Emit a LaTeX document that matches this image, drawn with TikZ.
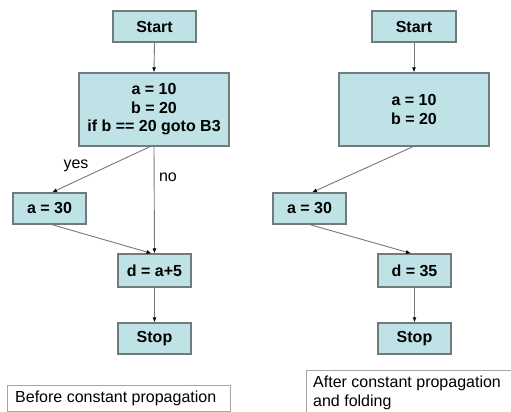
\documentclass[tikz,border=0pt]{standalone}
\usepackage{fontspec}
\setmainfont{Liberation Sans}
\usetikzlibrary{arrows.meta}
\definecolor{boxfill}{RGB}{190,226,230}
\definecolor{boxdraw}{RGB}{112,124,124}
\definecolor{linegray}{RGB}{120,120,120}
\definecolor{capdraw}{RGB}{165,165,165}
\begin{document}
\begin{tikzpicture}[x=1pt,y=-1pt,
  blk/.style={draw=boxdraw,line width=1.3pt,fill=boxfill,inner sep=0pt,align=center,
    font=\fontsize{16}{18.5}\selectfont\bfseries},
  flow/.style={draw=linegray,line width=0.9pt,-{Latex[length=5pt,width=4pt,color=black]}},
  lbl/.style={font=\fontsize{16}{18.5}\selectfont,inner sep=0pt},
  capbox/.style={draw=capdraw,line width=1pt,fill=white}]
\useasboundingbox (0,0) rectangle (511,412);
\clip (0,0) rectangle (511,412);
% left graph
\node[blk,minimum width=83pt,minimum height=31pt] (Ls) at (154.5,26.5) {Start};
\node[blk,minimum width=150pt,minimum height=73pt] (Lb) at (154,109.5) {a = 10\\b = 20\\if b == 20 goto B3};
\node[blk,minimum width=73pt,minimum height=31pt] (La) at (49.5,208.5) {a = 30};
\node[blk,minimum width=73pt,minimum height=33pt] (Ld) at (154.5,270.5) {d = a+5};
\node[blk,minimum width=73pt,minimum height=31pt] (Lt) at (154.5,338.5) {Stop};
\draw[flow] (Ls.south) -- (Lb.north);
\draw[flow] ([xshift=-4pt]Lb.south) -- ([xshift=2.5pt]La.north);
\draw[flow] (Lb.south) -- (Ld.north);
\draw[flow] ([xshift=2.5pt]La.south) -- ([xshift=-3pt]Ld.north);
\draw[flow] (Ld.south) -- (Lt.north);
\node[lbl] (yes) at (76,166) {yes};
\node[lbl] (no) at (168,177) {no};
% right graph
\node[blk,minimum width=84pt,minimum height=31pt] (Rs) at (414,26.5) {Start};
\node[blk,minimum width=150pt,minimum height=73pt] (Rb) at (414,109.5) {a = 10\\b = 20};
\node[blk,minimum width=73pt,minimum height=31pt] (Ra) at (309.5,208.5) {a = 30};
\node[blk,minimum width=73pt,minimum height=33pt] (Rd) at (414.5,270.5) {d = 35};
\node[blk,minimum width=73pt,minimum height=31pt] (Rt) at (414.5,338.5) {Stop};
\draw[flow] (Rs.south) -- (Rb.north);
\draw[flow] ([xshift=-1pt]Rb.south) -- ([xshift=2.5pt]Ra.north);
\draw[flow] ([xshift=0.5pt]Ra.south) -- ([xshift=-3.5pt]Rd.north);
\draw[flow] (Rd.south) -- (Rt.north);
% captions
\draw[capbox] (7,385) rectangle (230,411.5);
\node[lbl,anchor=west] (capL) at (15,398.5) {Before constant propagation};
\draw[capbox] (306,370) rectangle (515,416);
\node[lbl,anchor=north west,align=left] (capR) at (313,376) {After constant propagation\\and folding};
\end{tikzpicture}
\end{document}
